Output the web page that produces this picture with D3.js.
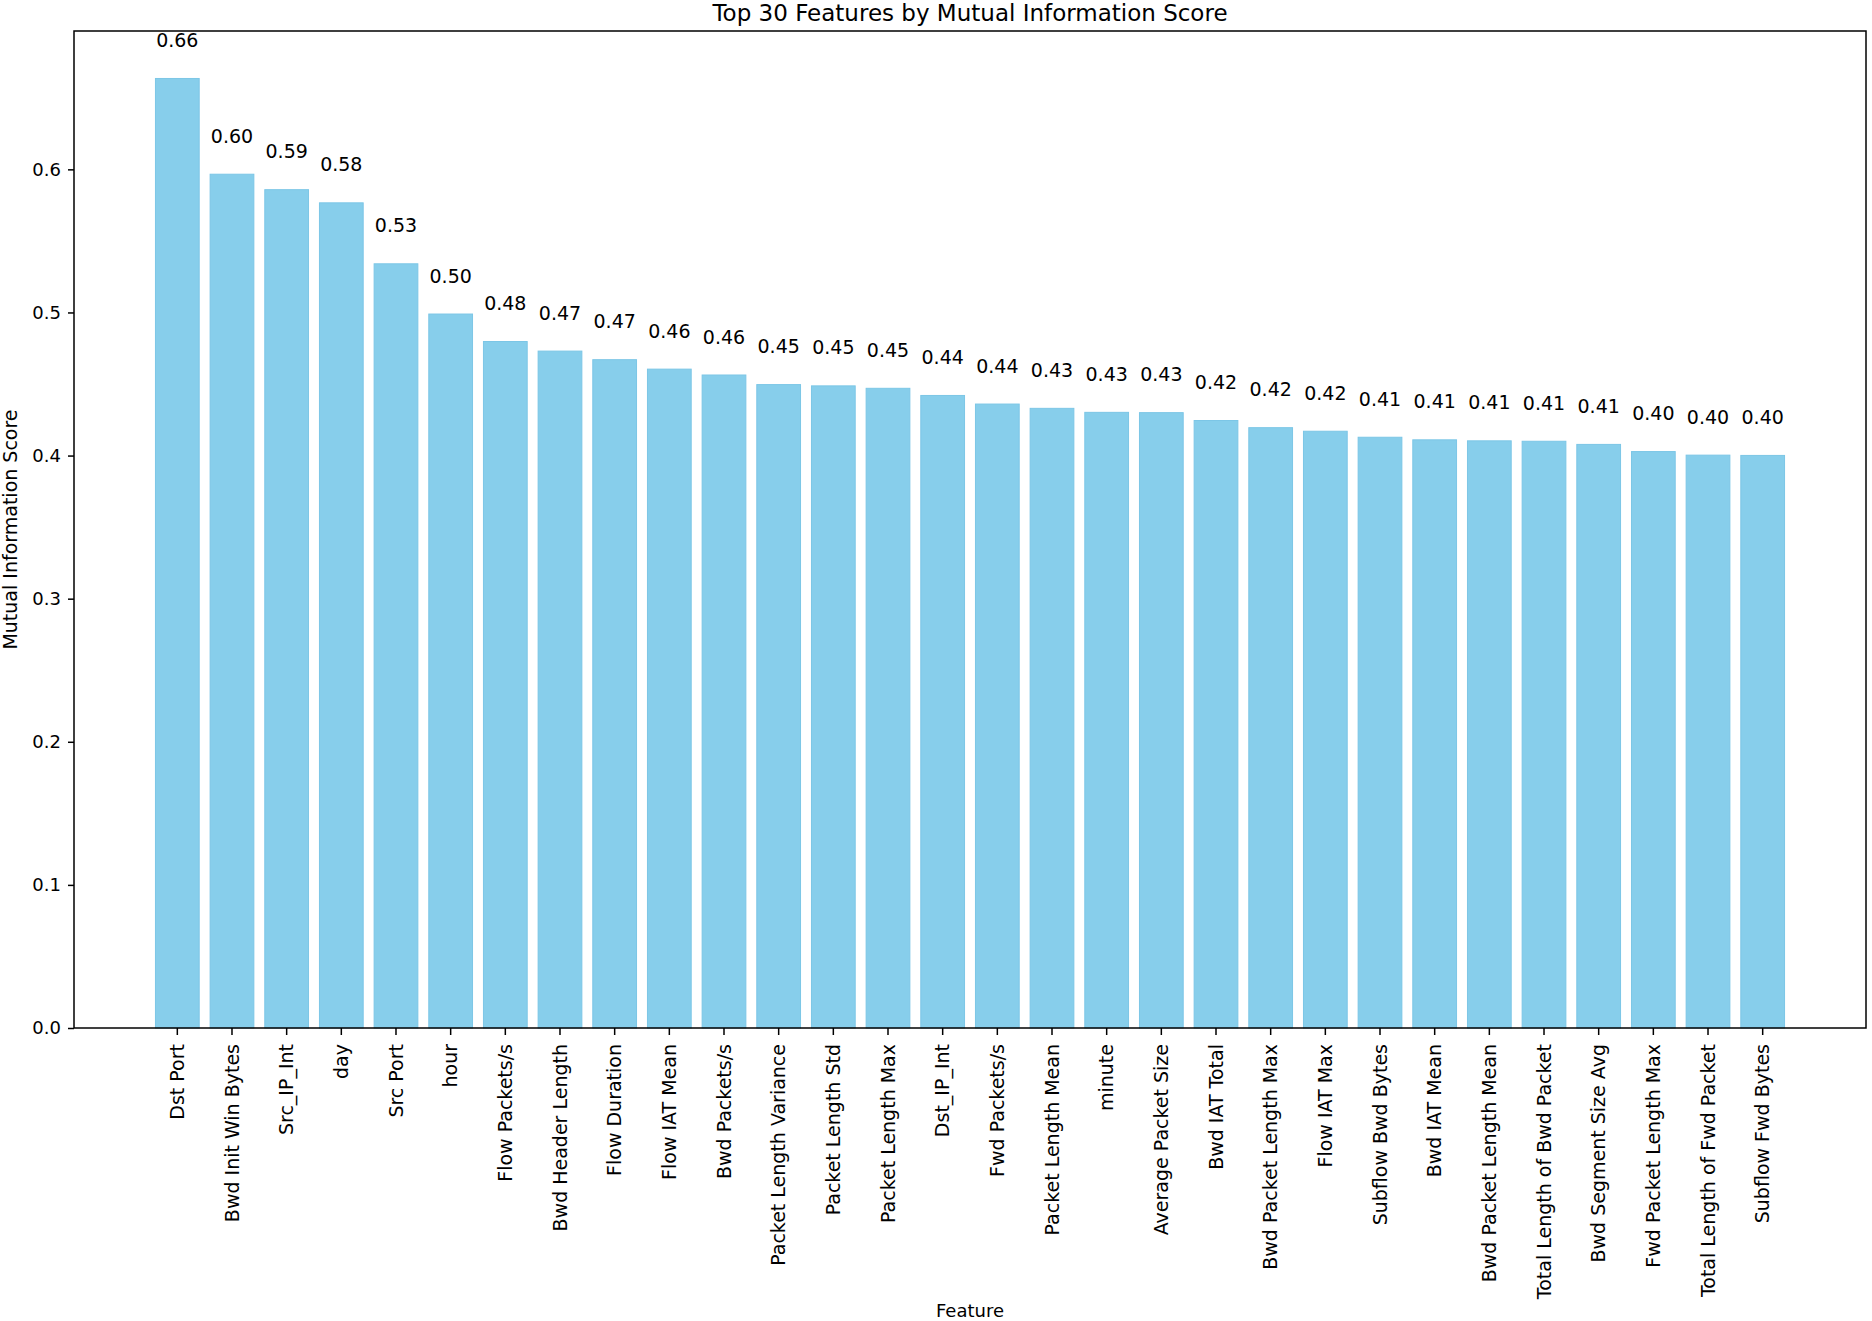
<!DOCTYPE html>
<html>
<head>
<meta charset="utf-8">
<script src="https://cdn.jsdelivr.net/npm/d3@7"></script>
<style>
  body { margin: 0; background: #fff; }
  text { font-family: "DejaVu Sans", sans-serif; fill: #000; }
</style>
</head>
<body>
<div id="chart"></div>
<script>
var features = ["Dst Port", "Bwd Init Win Bytes", "Src_IP_Int", "day", "Src Port", "hour",
    "Flow Packets/s", "Bwd Header Length", "Flow Duration", "Flow IAT Mean", "Bwd Packets/s",
    "Packet Length Variance", "Packet Length Std", "Packet Length Max", "Dst_IP_Int",
    "Fwd Packets/s", "Packet Length Mean", "minute", "Average Packet Size", "Bwd IAT Total",
    "Bwd Packet Length Max", "Flow IAT Max", "Subflow Bwd Bytes", "Bwd IAT Mean",
    "Bwd Packet Length Mean", "Total Length of Bwd Packet", "Bwd Segment Size Avg",
    "Fwd Packet Length Max", "Total Length of Fwd Packet", "Subflow Fwd Bytes"];

var scores = [0.6635, 0.5966, 0.5858, 0.5766, 0.5340, 0.4989,
    0.4797, 0.4730, 0.4670, 0.4604, 0.4563,
    0.4496, 0.4487, 0.4470, 0.4420,
    0.4360, 0.4330, 0.4302, 0.4300, 0.4245,
    0.4195, 0.4170, 0.4128, 0.4110,
    0.4103, 0.4100, 0.4078,
    0.4028, 0.4003, 0.4001];

var yTicks = [0.0, 0.1, 0.2, 0.3, 0.4, 0.5, 0.6];

var margin = {top: 31, right: 6, bottom: 293, left: 74},
    W = 1872, H = 1321,
    width = W - margin.left - margin.right,
    height = H - margin.top - margin.bottom;

var svg = d3.select("#chart")
  .append("svg")
    .attr("width", W)
    .attr("height", H)
  .append("g")
    .attr("transform", "translate(" + margin.left + "," + margin.top + ")");

var x = d3.scaleBand()
    .domain(features)
    .range([0, width])
    .paddingInner(0.2)
    .paddingOuter(1.49);

var y = d3.scaleLinear()
    .domain([0, d3.max(scores) * 1.05])
    .range([height, 0]);

var data = features.map(function(f, i) { return {name: f, value: scores[i]}; });

svg.selectAll("rect.bar")
  .data(data)
  .enter()
  .append("rect")
    .attr("class", "bar")
    .attr("x", function(d) { return x(d.name); })
    .attr("y", function(d) { return y(d.value); })
    .attr("width", x.bandwidth())
    .attr("height", function(d) { return height - y(d.value); })
    .style("fill", "#87ceeb")
    .style("stroke", "#7cc6e6")
    .style("stroke-width", 1);

// value labels above bars
svg.selectAll("text.val")
  .data(data)
  .enter()
  .append("text")
    .attr("class", "val")
    .attr("x", function(d) { return x(d.name) + x.bandwidth() / 2; })
    .attr("y", function(d) { return y(d.value + 0.022); })
    .attr("text-anchor", "middle")
    .style("font-size", "19px")
    .text(function(d) { return d3.format(".2f")(d.value); });

// axes
var yAxis = svg.append("g")
    .call(d3.axisLeft(y).tickValues(yTicks).tickFormat(d3.format(".1f")).tickSize(6).tickPadding(7));
yAxis.select(".domain").remove();
yAxis.selectAll("line").style("stroke-width", 1.5);
yAxis.selectAll("text").style("font-size", "18px").style("font-family", "DejaVu Sans");

var xAxis = svg.append("g")
    .attr("transform", "translate(0," + height + ")")
    .call(d3.axisBottom(x).tickSize(7).tickPadding(8));
xAxis.select(".domain").remove();
xAxis.selectAll("line").style("stroke-width", 1.5);
xAxis.selectAll("text")
    .style("font-size", "19px")
    .style("font-family", "DejaVu Sans")
    .attr("transform", "rotate(-90)")
    .attr("x", -16)
    .attr("y", 0)
    .attr("dy", "0.35em")
    .style("text-anchor", "end");

// frame
svg.append("rect")
    .attr("width", width)
    .attr("height", height)
    .style("fill", "none")
    .style("stroke", "#000")
    .style("stroke-width", 1.5);

svg.append("text")
    .attr("x", width / 2)
    .attr("y", -10)
    .attr("text-anchor", "middle")
    .style("font-size", "23px")
    .text("Top 30 Features by Mutual Information Score");

svg.append("text")
    .attr("transform", "rotate(-90)")
    .attr("x", -(height / 2))
    .attr("y", -margin.left + 17)
    .attr("text-anchor", "middle")
    .style("font-size", "19px")
    .text("Mutual Information Score");

svg.append("text")
    .attr("x", width / 2)
    .attr("y", height + 289)
    .attr("text-anchor", "middle")
    .style("font-size", "18px")
    .text("Feature");
</script>
</body>
</html>
